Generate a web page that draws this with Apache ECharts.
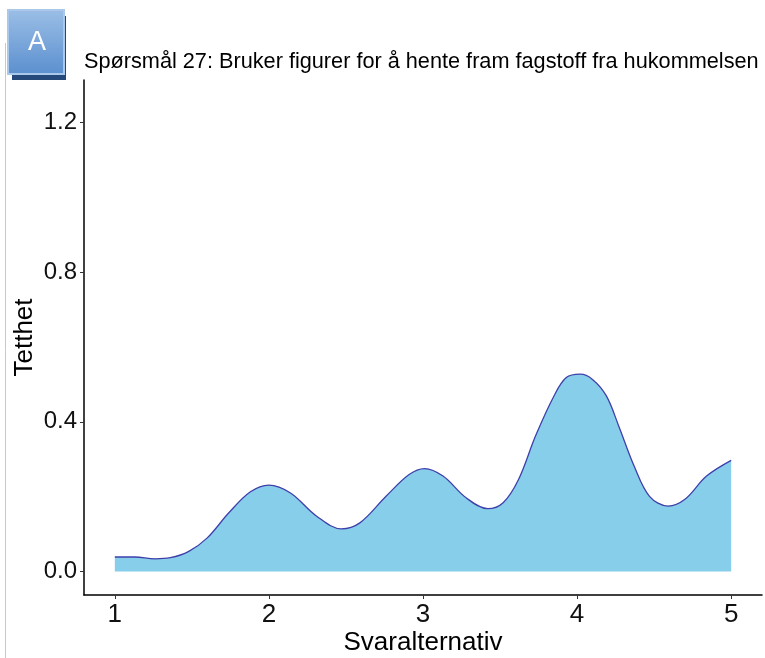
<!DOCTYPE html>
<html>
<head>
<meta charset="utf-8">
<script src="https://cdn.jsdelivr.net/npm/echarts@6/dist/echarts.min.js"></script>
<style>
html,body{margin:0;padding:0;background:#fff;}
#main{width:765px;height:658px;}
</style>
</head>
<body>
<div id="main"></div>
<script>
// Density curve: x = answer option, y = density
const densityX = [1.00, 1.13, 1.26, 1.36, 1.48, 1.60, 1.74, 1.88, 2.00, 2.14, 2.31, 2.47, 2.59, 2.76, 2.91, 3.01, 3.13, 3.28, 3.42, 3.52, 3.62, 3.73, 3.85, 3.93, 4.02, 4.10, 4.19, 4.27, 4.37, 4.47, 4.59, 4.70, 4.84, 5.00];
const densityY = [0.039, 0.039, 0.034, 0.037, 0.054, 0.090, 0.157, 0.213, 0.231, 0.210, 0.148, 0.114, 0.130, 0.201, 0.259, 0.275, 0.255, 0.197, 0.168, 0.184, 0.246, 0.362, 0.469, 0.518, 0.527, 0.513, 0.469, 0.389, 0.282, 0.201, 0.175, 0.193, 0.255, 0.297];
const xTicks = [1, 2, 3, 4, 5];
const yTicks = [0.0, 0.4, 0.8, 1.2];
const titleText = 'Spørsmål 27: Bruker figurer for å hente fram fagstoff fra hukommelsen';
const xTitle = 'Svaralternativ';
const yTitle = 'Tetthet';
const badgeText = 'A';

const chart = echarts.init(document.getElementById('main'), null, {renderer: 'canvas'});
const font = 'Liberation Sans, Arial, sans-serif';
const seriesData = densityX.map((x, i) => [x, densityY[i]]);

chart.setOption({
  animation: false,
  backgroundColor: '#ffffff',
  title: {
    text: titleText,
    left: 84,
    top: 51,
    padding: 0,
    textStyle: {fontFamily: font, fontSize: 21.7, fontWeight: 'normal', color: '#000'}
  },
  grid: {left: 84, right: 3, top: 80, bottom: 63, containLabel: false, outerBoundsMode: 'none'},
  xAxis: {
    type: 'value',
    min: 0.8, max: 5.2,
    name: xTitle,
    nameLocation: 'middle',
    nameGap: 35,
    nameMoveOverlap: false,
    nameTextStyle: {fontFamily: font, fontSize: 26, color: '#000'},
    axisLine: {show: true, onZero: false, lineStyle: {color: '#000', width: 1.5}},
    axisTick: {show: true, length: 4, customValues: xTicks, lineStyle: {color: '#333', width: 1}},
    axisLabel: {customValues: xTicks, fontFamily: font, fontSize: 26, color: '#111', margin: 7,
      formatter: v => String(v)},
    splitLine: {show: false}
  },
  yAxis: {
    type: 'value',
    min: -0.0625, max: 1.3125,
    name: yTitle,
    nameLocation: 'middle',
    nameGap: 46,
    nameMoveOverlap: false,
    nameRotate: 90,
    nameTextStyle: {fontFamily: font, fontSize: 26, color: '#000'},
    axisLine: {show: true, onZero: false, lineStyle: {color: '#000', width: 1.5}},
    axisTick: {show: true, length: 4, customValues: yTicks, lineStyle: {color: '#333', width: 1}},
    axisLabel: {customValues: yTicks, fontFamily: font, fontSize: 24, color: '#111', margin: 7,
      formatter: v => v.toFixed(1)},
    splitLine: {show: false}
  },
  series: [{
    type: 'line',
    data: seriesData,
    smooth: 0.35,
    symbol: 'none',
    lineStyle: {color: '#3f3faa', width: 1.3},
    areaStyle: {color: '#87ceeb', opacity: 1, origin: 0},
    z: 2
  }],
  graphic: [
    {type: 'line', shape: {x1: 5.5, y1: 43, x2: 5.5, y2: 658}, style: {stroke: '#c8c8c8', lineWidth: 1}},
    {type: 'rect', shape: {x: 12, y: 16, width: 54, height: 64}, style: {fill: '#24497a'}},
    {type: 'rect', shape: {x: 8, y: 10, width: 56, height: 64},
      style: {
        fill: new echarts.graphic.LinearGradient(0, 0, 0, 1, [
          {offset: 0, color: '#9bbfe6'}, {offset: 1, color: '#5b8fcf'}
        ]),
        stroke: '#a9c8ea', lineWidth: 2
      }},
    {type: 'text', x: 37, y: 43,
      style: {text: badgeText, fill: '#fff', fontFamily: font, fontSize: 27, align: 'center', verticalAlign: 'middle'}}
  ]
});
</script>
</body>
</html>
